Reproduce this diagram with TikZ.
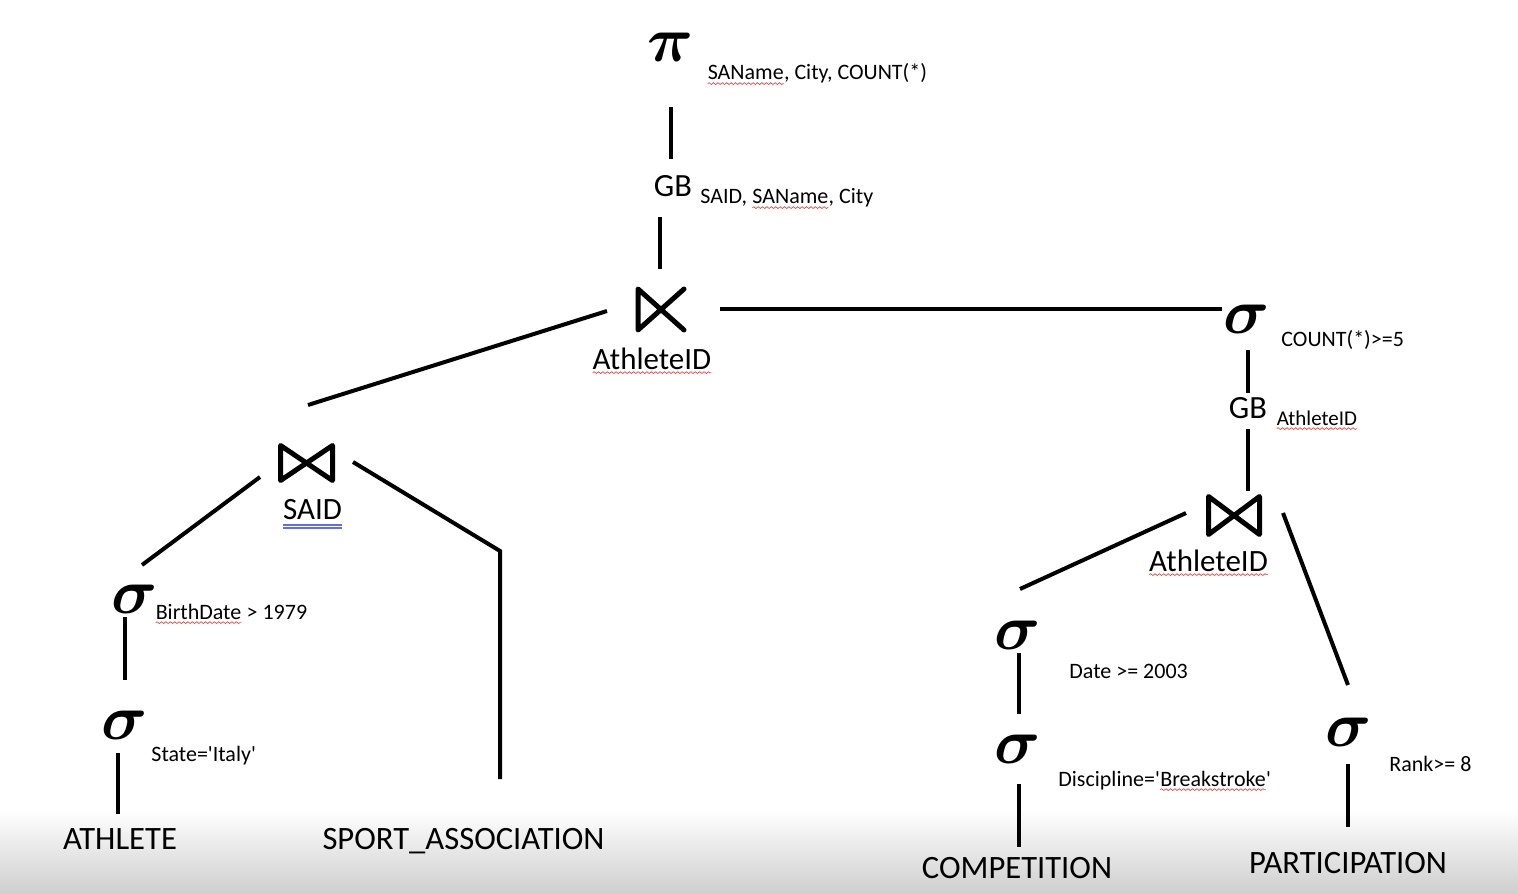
\documentclass[tikz,border=0pt]{standalone}
\usepackage{fix-cm}
\usepackage{amsmath}
\usepackage{fontspec}
\setmainfont{Carlito}
\usetikzlibrary{decorations.pathmorphing}

\definecolor{spellred}{RGB}{228,70,70}
\definecolor{gramblue}{RGB}{95,110,225}

\newcommand{\spellerr}[1]{\tikz[baseline=(w.base)]{\node[inner sep=0pt, outer sep=0pt, anchor=base] (w) at (0,0) {#1};
  \draw[spellred, line width=.35pt, decorate, decoration={snake, amplitude=.45pt, segment length=2.2pt}] ([yshift=-1.8pt]w.base west) -- ([yshift=-1.8pt]w.base east);}}
\newcommand{\gramerr}[1]{\tikz[baseline=(w.base)]{\node[inner sep=0pt, outer sep=0pt, anchor=base] (w) at (0,0) {#1};
  \draw[gramblue, line width=.6pt] ([yshift=-3pt]w.base west) -- ([yshift=-3pt]w.base east)
    ([yshift=-4.5pt]w.base west) -- ([yshift=-4.5pt]w.base east);}}

\begin{document}
\begin{tikzpicture}[x=0.5pt, y=-0.5pt,
      op/.style={inner sep=0pt, font=\fontsize{32}{32}\selectfont},
      gb/.style={inner sep=0pt, anchor=base, font=\fontsize{16.2}{18}\selectfont},
      rel/.style={inner sep=0pt, anchor=base, font=\fontsize{16.3}{18}\selectfont},
      attr/.style={inner sep=0pt, anchor=base, font=\fontsize{15.5}{18}\selectfont},
      cond/.style={inner sep=0pt, anchor=base west, font=\fontsize{11}{13}\selectfont},
      joinbox/.style={inner sep=0pt, outer sep=0pt},
      sym/.style={line width=2.5pt, line join=round, line cap=round},
      edge/.style={line width=2pt}
    ]
    \fill[white] (0,0) rectangle (1518,893);
    \shade[top color=white, bottom color=black!19] (0,810) rectangle (1518,893);
    \useasboundingbox (0,0) rectangle (1518,893);

    % top: projection, group by, semijoin
    \node[op] (pi) at (671,47.5) {$\boldsymbol{\pi}$};
    \node[cond] (pil) at (707,80) {\spellerr{SAName}, City, COUNT(*)};
    \node[gb] (gb1) at (673,197) {GB};
    \node[cond] (gb1l) at (700,204) {SAID, \spellerr{SAName}, City};
    \node[joinbox, minimum width=23pt, minimum height=20.5pt] (j1) at (661,309.5) {};
    \node[attr] (j1l) at (652,369) {\spellerr{AthleteID}};

    % left branch
    \node[joinbox, minimum width=26pt, minimum height=17.5pt] (j2) at (306.5,463) {};
    \node[attr] (j2l) at (312.5,519) {\gramerr{SAID}};
    \node[op] (s1) at (134.5,599.5) {$\boldsymbol{\sigma}$};
    \node[cond] (s1l) at (155,619) {\spellerr{BirthDate} > 1979};
    \node[op] (s2) at (125,725.5) {$\boldsymbol{\sigma}$};
    \node[cond] (s2l) at (151,761) {State=\textquotesingle Italy\textquotesingle};
    \node[rel] (athlete) at (120,849) {ATHLETE};
    \node[rel] (sport) at (463.5,849) {SPORT\_ASSOCIATION};

    % right branch
    \node[op] (s3) at (1246.5,319) {$\boldsymbol{\sigma}$};
    \node[cond] (s3l) at (1281,346) {COUNT(*)>=5};
    \node[gb] (gb2) at (1248,418) {GB};
    \node[cond, font=\fontsize{10.5}{12}\selectfont] (gb2l) at (1276,425) {\spellerr{AthleteID}};
    \node[joinbox, minimum width=25.5pt, minimum height=19pt] (j3) at (1234,515.5) {};
    \node[attr] (j3l) at (1208.5,571) {\spellerr{AthleteID}};
    \node[op] (s4) at (1017.5,635) {$\boldsymbol{\sigma}$};
    \node[cond] (s4l) at (1069,678) {Date >= 2003};
    \node[op] (s5) at (1017.5,749) {$\boldsymbol{\sigma}$};
    \node[cond] (s5l) at (1058,786) {Discipline=\textquotesingle\spellerr{Breakstroke}\textquotesingle};
    \node[rel] (comp) at (1017,878) {COMPETITION};
    \node[op] (s6) at (1349,732.5) {$\boldsymbol{\sigma}$};
    \node[cond] (s6l) at (1389,771) {Rank>= 8};
    \node[rel] (part) at (1348,873) {PARTICIPATION};

    % join symbols
    \draw[sym] (j1.north east) -- (j1.south west) -- (j1.north west) -- (j1.south east);
    \foreach \j in {j2,j3}
      \draw[sym] (\j.north west) -- (\j.south west) -- (\j.north east) -- (\j.south east) -- cycle;

    % edges
    \draw[edge] ([yshift=-29.75pt]pi.center) -- ([xshift=-1pt,yshift=19pt]gb1.base);
    \draw[edge] ([xshift=-6.5pt,yshift=-10pt]gb1.base) -- ([xshift=-.5pt,yshift=20.25pt]j1.center);
    \draw[edge] ([xshift=-27pt,yshift=-.75pt]j1.center) -- ([xshift=.75pt,yshift=29pt]j2.center);
    \draw[edge] ([xshift=29.5pt,yshift=.25pt]j1.center) -- ([xshift=-12.25pt,yshift=5pt]s3.center);
    \draw[edge] ([xshift=-23.25pt,yshift=-7pt]j2.center) -- ([xshift=3.75pt,yshift=17.25pt]s1.center);
    \draw[edge] ([xshift=23.25pt,yshift=.5pt]j2.center) -- ([xshift=18.25pt,yshift=149pt]sport.base)
      -- ([xshift=18.25pt,yshift=35pt]sport.base);
    \draw[edge] ([xshift=-4.75pt,yshift=-8.75pt]s1.center) -- ([yshift=22.75pt]s2.center);
    \draw[edge] ([xshift=-3.5pt,yshift=-13.75pt]s2.center) -- ([xshift=-1pt,yshift=17.5pt]athlete.base);
    \draw[edge] ([xshift=.75pt,yshift=-15.5pt]s3.center) -- ([yshift=12.5pt]gb2.base);
    \draw[edge] ([yshift=-5.5pt]gb2.base) -- ([xshift=7pt,yshift=12.25pt]j3.center);
    \draw[edge] ([xshift=-24pt,yshift=1.25pt]j3.center) -- ([xshift=1.25pt,yshift=23pt]s4.center);
    \draw[edge] ([xshift=24.5pt,yshift=1.25pt]j3.center) -- ([xshift=-.5pt,yshift=23.75pt]s6.center);
    \draw[edge] ([xshift=.75pt,yshift=-9pt]s4.center) -- ([xshift=.75pt,yshift=17.5pt]s5.center);
    \draw[edge] ([xshift=.75pt,yshift=-17.5pt]s5.center) -- ([xshift=1pt,yshift=15.5pt]comp.base);
    \draw[edge] ([xshift=-.5pt,yshift=-15.75pt]s6.center) -- ([yshift=23pt]part.base);
\end{tikzpicture}
\end{document}
